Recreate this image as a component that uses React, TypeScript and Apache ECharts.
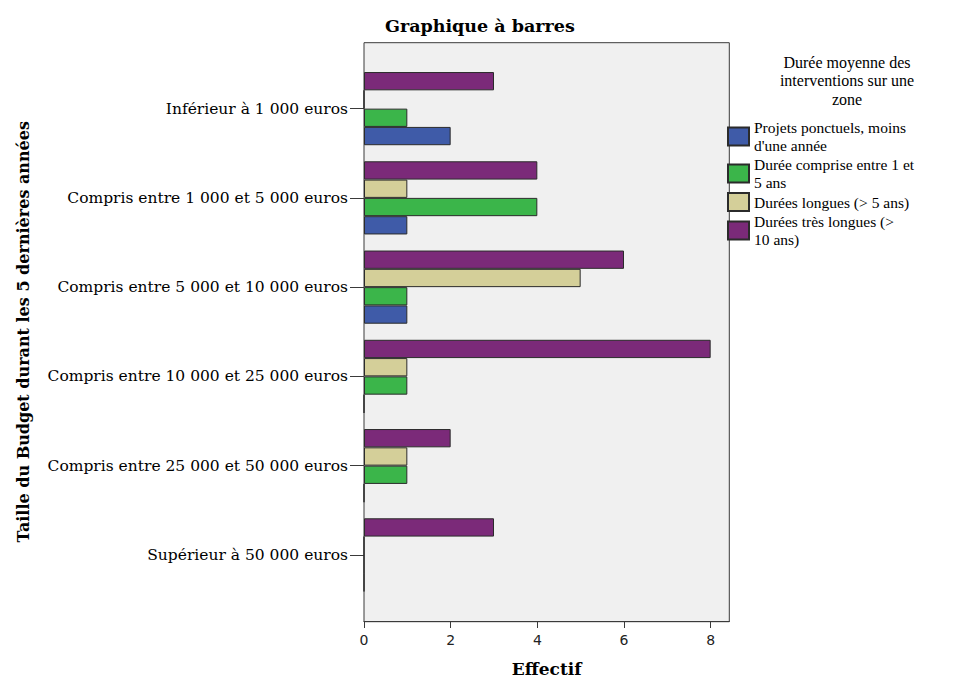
import React, { useEffect, useRef } from "react";
import * as echarts from "echarts";

const categories = [
  "Inférieur à 1 000 euros",
  "Compris entre 1 000 et 5 000 euros",
  "Compris entre 5 000 et 10 000 euros",
  "Compris entre 10 000 et 25 000 euros",
  "Compris entre 25 000 et 50 000 euros",
  "Supérieur à 50 000 euros",
];
const seriesNames = [
  "Projets ponctuels, moins\nd'une année",
  "Durée comprise entre 1 et\n5 ans",
  "Durées longues (> 5 ans)",
  "Durées très longues (>\n10 ans)",
];
const legendTitle = "Durée moyenne des\ninterventions sur une\nzone";
const projetsPonctuels = [2, 1, 1, 0, 0, 0];
const dureeComprise = [1, 4, 1, 1, 1, 0];
const dureesLongues = [0, 1, 5, 1, 1, 0];
const dureesTresLongues = [3, 4, 6, 8, 2, 3];
const seriesColors = ["#3f5ba8", "#3bb54a", "#d4cf99", "#7b2a79"];
const xTickValues = [0, 2, 4, 6, 8];
const xMax = 8.43;

const SERIF = "DejaVu Serif";

export default function App() {
  const ref = useRef<HTMLDivElement>(null);
  useEffect(() => {
    if (!ref.current) return;
    const chart = echarts.init(ref.current, undefined, { renderer: "svg" });
    const values = [projetsPonctuels, dureeComprise, dureesLongues, dureesTresLongues];
    // drawn purple first so that it sits on top of each group
    const order = [3, 2, 1, 0];
    const series = order.map((i) => ({
      name: seriesNames[i],
      type: "bar" as const,
      data: values[i],
      barGap: "0%",
      barCategoryGap: "18%",
      z: 3,
      itemStyle: { color: seriesColors[i], borderColor: "#2b2b2b", borderWidth: 1 },
    }));
    chart.setOption({
      animation: false,
      backgroundColor: "#ffffff",
      textStyle: { fontFamily: SERIF },
      title: [
        {
          text: "Graphique à barres",
          left: 385,
          top: 17,
          padding: 0,
          textStyle: { fontFamily: SERIF, fontWeight: "bold", fontSize: 17.5, color: "#000" },
        },
        {
          text: legendTitle,
          left: 847,
          top: 53,
          padding: 0,
          textAlign: "center",
          textStyle: {
            fontFamily: "serif",
            fontWeight: "normal",
            fontSize: 16,
            lineHeight: 18.5,
            color: "#000",
          },
        },
      ],
      graphic: [
        {
          type: "rect",
          z: -10,
          silent: true,
          shape: { x: 364, y: 42.7, width: 365.3, height: 579 },
          style: { fill: "#f0f0f0", stroke: "#3a3a3a", lineWidth: 1 },
        },
      ],
      legend: {
        orient: "vertical",
        left: 727,
        top: 118,
        padding: 0,
        itemWidth: 21,
        itemHeight: 18,
        itemGap: 0,
        icon: "rect",
        data: seriesNames,
        textStyle: {
          fontFamily: "serif",
          fontWeight: "normal",
          fontSize: 15.5,
          lineHeight: 18.5,
          color: "#000",
        },
      },
      grid: { left: 364, right: 239.7, top: 64, bottom: 81.8 },
      xAxis: {
        type: "value",
        min: 0,
        max: xMax,
        offset: 21.5,
        axisLine: { show: true, lineStyle: { color: "#3a3a3a" } },
        axisTick: { show: true, length: 7, customValues: xTickValues, lineStyle: { color: "#3a3a3a" } },
        axisLabel: {
          customValues: xTickValues,
          margin: 12,
          fontFamily: "DejaVu Sans",
          fontSize: 14,
          color: "#222",
        },
        splitLine: { show: false },
        name: "Effectif",
        nameLocation: "middle",
        nameGap: 39,
        nameTextStyle: { fontFamily: SERIF, fontWeight: "bold", fontSize: 17, color: "#000" },
      },
      yAxis: {
        type: "category",
        data: categories,
        inverse: true,
        axisLine: { show: false },
        axisTick: { show: true, alignWithLabel: true, length: 14, lineStyle: { color: "#3a3a3a" } },
        axisLabel: { margin: 16, fontFamily: SERIF, fontSize: 15.5, color: "#000" },
        name: "Taille du Budget durant les 5 dernières années",
        nameLocation: "middle",
        nameRotate: 90,
        nameGap: 333,
        nameTextStyle: { fontFamily: SERIF, fontWeight: "bold", fontSize: 16, color: "#000" },
      },
      series,
    });
    return () => chart.dispose();
  }, []);
  return (
    <div
      ref={ref}
      style={{ position: "fixed", left: 0, top: 0, width: 969, height: 682 }}
    />
  );
}
